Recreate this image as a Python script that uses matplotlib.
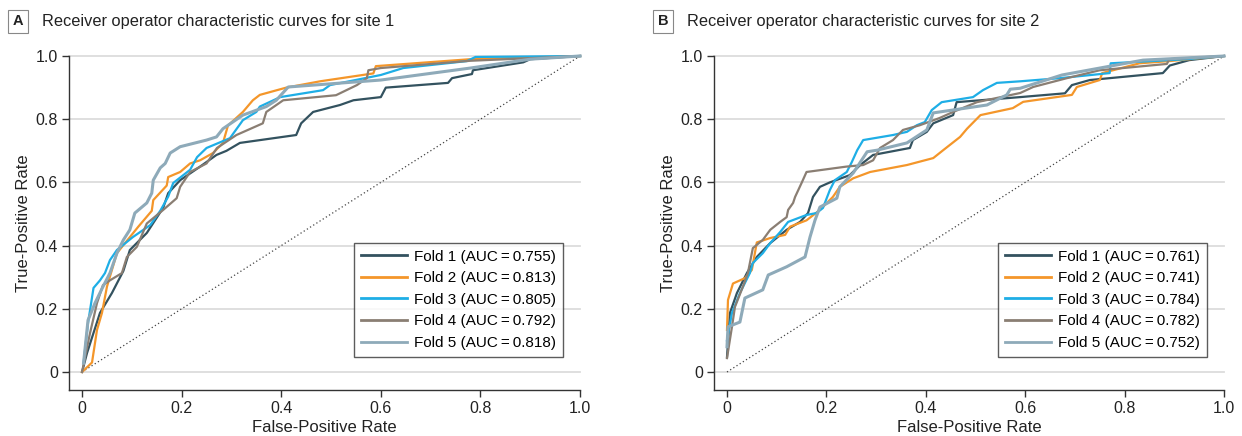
import matplotlib
matplotlib.use("Agg")
import matplotlib.pyplot as plt
from matplotlib.ticker import FuncFormatter

plt.rcParams['font.family'] = ['Liberation Sans', 'DejaVu Sans']

# ---------------- data ----------------
titles = ["Receiver operator characteristic curves for site 1",
          "Receiver operator characteristic curves for site 2"]
panel_letters = ["A", "B"]
fold_names = ["Fold 1", "Fold 2", "Fold 3", "Fold 4", "Fold 5"]
auc_site1 = [0.755, 0.813, 0.805, 0.792, 0.818]
auc_site2 = [0.761, 0.741, 0.784, 0.782, 0.752]
colors = ["#33525f", "#f4962a", "#1eaee6", "#8a7e73", "#8eaab9"]
widths = [1.6, 1.6, 1.6, 1.6, 2.2]

# Site 1
s1_f1_fpr = [0, 0.01, 0.036, 0.06, 0.083, 0.096, 0.13, 0.163, 0.173, 0.197, 0.237, 0.27, 0.29, 0.317, 0.43, 0.44, 0.464, 0.518, 0.545, 0.6, 0.61, 0.735, 0.743, 0.783, 0.785, 0.886, 0.9, 1.0]
s1_f1_tpr = [0, 0.06, 0.187, 0.25, 0.32, 0.386, 0.44, 0.52, 0.566, 0.607, 0.65, 0.687, 0.70, 0.725, 0.75, 0.787, 0.823, 0.845, 0.86, 0.87, 0.90, 0.915, 0.93, 0.943, 0.955, 0.98, 0.99, 1.0]
s1_f2_fpr = [0, 0.02, 0.03, 0.04, 0.05, 0.07, 0.113, 0.14, 0.143, 0.17, 0.173, 0.197, 0.217, 0.237, 0.263, 0.283, 0.293, 0.323, 0.343, 0.357, 0.41, 0.478, 0.585, 0.59, 0.78, 1.0]
s1_f2_tpr = [0, 0.03, 0.133, 0.187, 0.27, 0.376, 0.46, 0.51, 0.544, 0.59, 0.617, 0.633, 0.66, 0.67, 0.693, 0.725, 0.78, 0.823, 0.86, 0.877, 0.90, 0.92, 0.945, 0.968, 0.99, 1.0]
s1_f3_fpr = [0.003, 0.012, 0.023, 0.036, 0.046, 0.056, 0.07, 0.102, 0.137, 0.157, 0.173, 0.183, 0.217, 0.231, 0.25, 0.297, 0.323, 0.35, 0.357, 0.398, 0.484, 0.498, 0.6, 0.645, 0.773, 0.79, 1.0]
s1_f3_tpr = [0.028, 0.155, 0.266, 0.29, 0.313, 0.354, 0.386, 0.427, 0.465, 0.51, 0.555, 0.598, 0.64, 0.68, 0.709, 0.74, 0.797, 0.823, 0.84, 0.87, 0.892, 0.908, 0.94, 0.962, 0.984, 0.997, 1.0]
s1_f4_fpr = [0, 0.016, 0.03, 0.042, 0.056, 0.08, 0.09, 0.11, 0.13, 0.163, 0.19, 0.197, 0.217, 0.25, 0.271, 0.31, 0.363, 0.37, 0.404, 0.51, 0.552, 0.572, 0.575, 0.6, 0.78, 1.0]
s1_f4_tpr = [0, 0.123, 0.218, 0.275, 0.29, 0.313, 0.364, 0.396, 0.47, 0.513, 0.55, 0.586, 0.633, 0.66, 0.709, 0.75, 0.787, 0.823, 0.86, 0.876, 0.908, 0.93, 0.955, 0.962, 0.985, 1.0]
s1_f5_fpr = [0.003, 0.012, 0.026, 0.042, 0.056, 0.07, 0.083, 0.096, 0.106, 0.13, 0.14, 0.143, 0.157, 0.167, 0.177, 0.197, 0.25, 0.27, 0.283, 0.323, 0.37, 0.39, 0.414, 0.6, 0.78, 0.9, 1.0]
s1_f5_tpr = [0.028, 0.164, 0.218, 0.27, 0.313, 0.376, 0.418, 0.45, 0.503, 0.535, 0.566, 0.607, 0.646, 0.66, 0.693, 0.713, 0.734, 0.744, 0.77, 0.813, 0.84, 0.86, 0.902, 0.924, 0.962, 0.99, 1.0]

# Site 2
s2_f1_fpr = [0, 0.006, 0.02, 0.04, 0.06, 0.087, 0.12, 0.147, 0.163, 0.173, 0.187, 0.207, 0.247, 0.268, 0.294, 0.368, 0.374, 0.402, 0.415, 0.455, 0.462, 0.59, 0.68, 0.694, 0.73, 0.877, 0.891, 0.93, 1.0]
s2_f1_tpr = [0.047, 0.187, 0.25, 0.313, 0.364, 0.408, 0.45, 0.475, 0.503, 0.554, 0.586, 0.60, 0.623, 0.655, 0.687, 0.709, 0.734, 0.76, 0.787, 0.813, 0.854, 0.87, 0.882, 0.908, 0.924, 0.946, 0.97, 0.987, 1.0]
s2_f2_fpr = [0, 0.002, 0.012, 0.036, 0.05, 0.06, 0.087, 0.117, 0.127, 0.16, 0.187, 0.213, 0.227, 0.254, 0.288, 0.362, 0.415, 0.435, 0.469, 0.483, 0.51, 0.575, 0.596, 0.694, 0.704, 0.75, 0.755, 0.83, 0.89, 1.0]
s2_f2_tpr = [0.133, 0.228, 0.28, 0.297, 0.323, 0.41, 0.424, 0.434, 0.46, 0.48, 0.513, 0.554, 0.586, 0.613, 0.633, 0.655, 0.677, 0.702, 0.744, 0.77, 0.813, 0.835, 0.855, 0.877, 0.902, 0.924, 0.946, 0.977, 0.984, 1.0]
s2_f3_fpr = [0, 0.01, 0.026, 0.046, 0.052, 0.072, 0.087, 0.107, 0.123, 0.16, 0.18, 0.193, 0.207, 0.217, 0.241, 0.251, 0.262, 0.274, 0.334, 0.362, 0.382, 0.398, 0.412, 0.432, 0.495, 0.515, 0.543, 0.59, 0.67, 0.77, 0.772, 0.925, 1.0]
s2_f3_tpr = [0.10, 0.187, 0.25, 0.313, 0.345, 0.376, 0.408, 0.443, 0.475, 0.497, 0.503, 0.519, 0.576, 0.607, 0.633, 0.664, 0.702, 0.734, 0.75, 0.76, 0.781, 0.791, 0.829, 0.854, 0.87, 0.892, 0.915, 0.92, 0.93, 0.946, 0.977, 0.99, 1.0]
s2_f4_fpr = [0, 0.01, 0.016, 0.032, 0.042, 0.052, 0.072, 0.087, 0.107, 0.12, 0.123, 0.133, 0.137, 0.15, 0.16, 0.24, 0.274, 0.294, 0.308, 0.334, 0.354, 0.388, 0.428, 0.455, 0.503, 0.59, 0.616, 0.684, 0.75, 0.885, 0.89, 1.0]
s2_f4_tpr = [0.044, 0.143, 0.206, 0.27, 0.313, 0.392, 0.418, 0.45, 0.475, 0.49, 0.513, 0.535, 0.554, 0.598, 0.633, 0.65, 0.655, 0.67, 0.709, 0.734, 0.766, 0.781, 0.804, 0.823, 0.854, 0.883, 0.902, 0.93, 0.955, 0.975, 0.99, 1.0]
s2_f5_fpr = [0, 0.002, 0.026, 0.036, 0.072, 0.083, 0.12, 0.157, 0.167, 0.177, 0.187, 0.221, 0.227, 0.254, 0.282, 0.302, 0.362, 0.402, 0.415, 0.523, 0.563, 0.57, 0.59, 0.674, 0.837, 1.0]
s2_f5_tpr = [0.08, 0.143, 0.158, 0.234, 0.26, 0.307, 0.333, 0.364, 0.427, 0.48, 0.522, 0.55, 0.586, 0.63, 0.697, 0.702, 0.725, 0.766, 0.82, 0.845, 0.877, 0.895, 0.898, 0.94, 0.987, 1.0]

site1 = [(s1_f1_fpr, s1_f1_tpr), (s1_f2_fpr, s1_f2_tpr), (s1_f3_fpr, s1_f3_tpr),
         (s1_f4_fpr, s1_f4_tpr), (s1_f5_fpr, s1_f5_tpr)]
site2 = [(s2_f1_fpr, s2_f1_tpr), (s2_f2_fpr, s2_f2_tpr), (s2_f3_fpr, s2_f3_tpr),
         (s2_f4_fpr, s2_f4_tpr), (s2_f5_fpr, s2_f5_tpr)]
sites = [site1, site2]
aucs = [auc_site1, auc_site2]
ticks = [0, 0.2, 0.4, 0.6, 0.8, 1.0]

# ---------------- figure ----------------
fig = plt.figure(figsize=(12.42, 4.36), dpi=100)
axes_pos = [[0.0556, 0.1055, 0.4114, 0.766], [0.5749, 0.1055, 0.4106, 0.766]]

fmt = FuncFormatter(lambda v, p: "0" if abs(v) < 1e-9 else f"{v:.1f}")

for i in range(2):
    ax = fig.add_axes(axes_pos[i])
    ax.set_xlim(-0.0261, 1.0)
    ax.set_ylim(-0.057, 1.0)
    for t in ticks:
        ax.axhline(t, color="#dcdcdc", lw=1.3, zorder=0, clip_on=False)
    ax.plot([0, 1], [0, 1], ls=(0, (1, 2)), color="#444444", lw=0.9, zorder=1)
    for k, (fpr, tpr) in enumerate(sites[i]):
        ax.plot(fpr, tpr, color=colors[k], lw=widths[k], clip_on=False, zorder=2 + k,
                label=f"{fold_names[k]} (AUC\u2009=\u2009{aucs[i][k]:.3f})")
    ax.set_xticks(ticks)
    ax.set_yticks(ticks)
    ax.xaxis.set_major_formatter(fmt)
    ax.yaxis.set_major_formatter(fmt)
    ax.tick_params(direction="out", length=5, width=1, color="#333333",
                   labelsize=11.5, labelcolor="#222222", pad=3)
    for s in ["top", "right"]:
        ax.spines[s].set_visible(False)
    for s in ["left", "bottom"]:
        ax.spines[s].set_color("#333333")
        ax.spines[s].set_linewidth(1.0)
    ax.spines["bottom"].set_bounds(-0.0261, 1.0)
    ax.spines["left"].set_bounds(-0.057, 1.0)
    ax.set_xlabel("False-Positive Rate", fontsize=12, color="#222222", labelpad=3)
    ax.set_ylabel("True-Positive Rate", fontsize=12, color="#222222", labelpad=3)
    leg = ax.legend(loc="lower right", bbox_to_anchor=(0.967, 0.099), fontsize=11,
                    frameon=True, fancybox=False, handlelength=3.0, handletextpad=0.5,
                    labelspacing=0.5, borderpad=0.45, borderaxespad=0)
    leg.get_frame().set_edgecolor("#333333")
    leg.get_frame().set_linewidth(1.0)
    for h in leg.get_lines():
        h.set_linewidth(2.0)
    # panel title
    x0 = axes_pos[i][0]
    fig.text(x0 - 0.041, 0.951, panel_letters[i], fontsize=10.5, fontweight="bold",
             ha="center", va="center", color="#222222",
             bbox=dict(boxstyle="square,pad=0.3", fc="white", ec="#888888", lw=0.8))
    fig.text(x0 - 0.0215, 0.951, titles[i], fontsize=11.8, ha="left", va="center",
             color="#222222")

fig.savefig("out.png", dpi=100)
